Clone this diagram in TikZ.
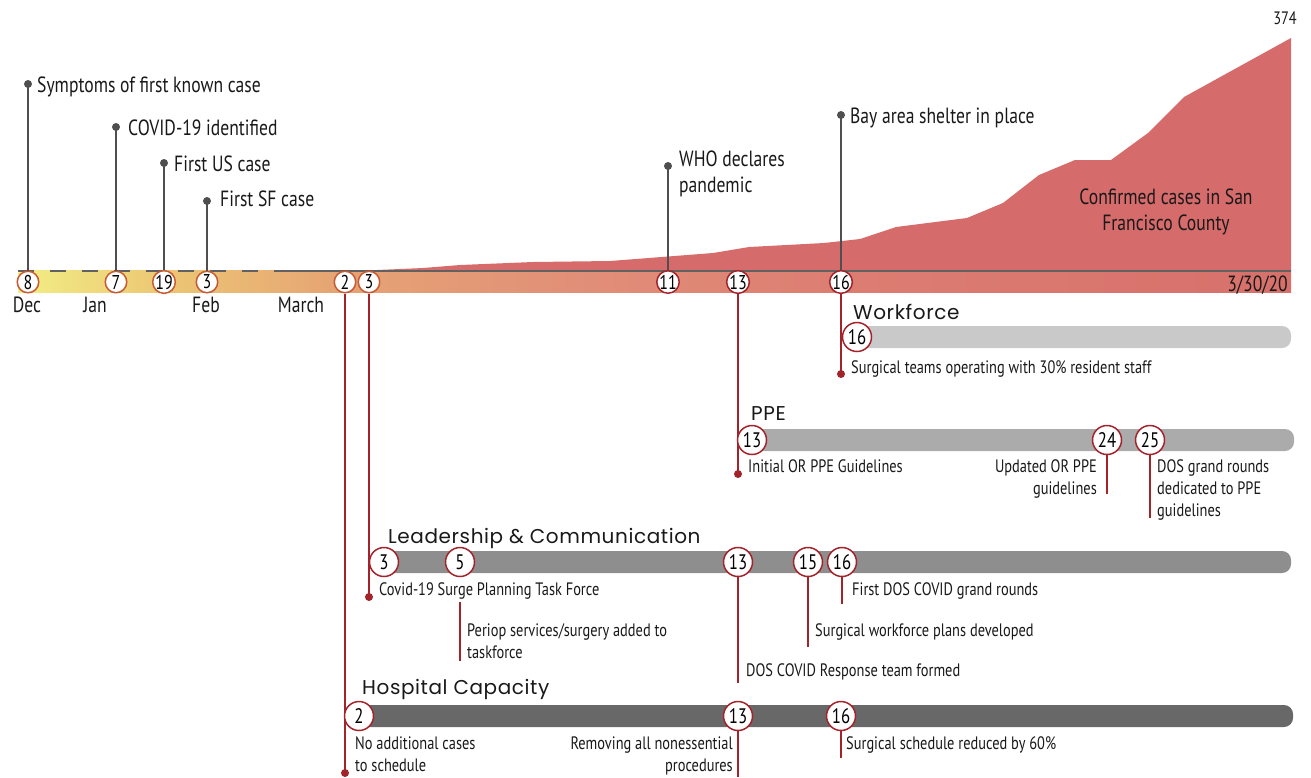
\documentclass[tikz,border=0pt]{standalone}
\usepackage{fontspec}
\setmainfont{PT Sans}
\newfontfamily\cond{PT Sans}[FakeStretch=0.8]
\newfontfamily\headfont{Poppins}[LetterSpace=3]
\definecolor{casered}{HTML}{D66B6B}
\definecolor{stemred}{HTML}{A3232B}
\definecolor{stemgray}{HTML}{4F4F4F}
\definecolor{bandring}{HTML}{C65A32}
\definecolor{trackA}{HTML}{C9C9C9}
\definecolor{trackB}{HTML}{ABABAB}
\definecolor{trackC}{HTML}{8E8E8E}
\definecolor{trackD}{HTML}{686868}
\definecolor{bA}{HTML}{F2EE84}
\definecolor{bB}{HTML}{ECC574}
\definecolor{bC}{HTML}{E6A474}
\definecolor{bD}{HTML}{E18E78}
\definecolor{bE}{HTML}{DC7D72}
\definecolor{bF}{HTML}{D7706B}
\pgfdeclarehorizontalshading{bandshade}{100bp}{color(0bp)=(bA); color(25bp)=(bA); color(31bp)=(bB); color(37.5bp)=(bC); color(47.5bp)=(bD); color(57.5bp)=(bE); color(75bp)=(bF); color(100bp)=(bF)}
\tikzset{
  big/.style={font=\cond\fontsize{22}{26}\selectfont, inner sep=0pt, text=black!90},
  small/.style={font=\cond\fontsize{18}{22}\selectfont, inner sep=0pt, text=black!90},
  heading/.style={font=\headfont\fontsize{20}{24}\selectfont, inner sep=0pt, text=black!90},
  bandcirc/.style={circle, draw=bandring, fill=white, line width=1.5pt, minimum size=21.5pt, inner sep=0pt, font=\cond\fontsize{20}{20}\selectfont},
  trackcirc/.style={circle, draw=stemred, fill=white, line width=1.5pt, minimum size=29pt, inner sep=0pt, font=\cond\fontsize{21}{21}\selectfont},
  gstem/.style={draw=stemgray, line width=2.5pt},
  rstem/.style={draw=stemred, line width=2.5pt},
  thinstem/.style={draw=stemred, line width=1.2pt},
  gdot/.style={circle, fill=stemgray, inner sep=0pt, minimum size=8pt},
  rdot/.style={circle, fill=stemred, inner sep=0pt, minimum size=8pt}
}
\begin{document}
\begin{tikzpicture}[x=1pt,y=-1pt]
\useasboundingbox (0,0) rectangle (1311,777);
% cases area
\fill[casered] (300,271) -- (377,270) -- (423,268) -- (460,265) -- (533,262) -- (610,261) -- (713,253) -- (749,247) -- (824,243) -- (860,239) -- (896,227) -- (967,218) -- (1003,203) -- (1039,175) -- (1075,160) -- (1111,160) -- (1148,133) -- (1184,97) -- (1291,38) -- (1291,271) -- cycle;
\node[small, anchor=base east] (max) at (1297,24) {374};
\node[big, align=center, anchor=base] (cases) at (1166,230) {Confirmed cases in San\\Francisco County};
% band
\shade[shading=bandshade] (18,270) rectangle (1291,292);
\draw[stemgray!90, line width=1.5pt, dash pattern=on 16pt off 16pt] (18,271) -- (275,271);
\draw[stemgray!90, line width=1.5pt] (275,271) -- (1291,271);
% months
\node[big, anchor=base] (mdec) at (27,312) {Dec};
\node[big, anchor=base] (mjan) at (95,312) {Jan};
\node[big, anchor=base] (mfeb) at (206,312) {Feb};
\node[big, anchor=base] (mmar) at (301,312) {March};
\node[big, anchor=base east] (mend) at (1288,291) {3/30/20};
% top events
\coordinate (e1) at (28,84);
\coordinate (e2) at (116,127);
\coordinate (e3) at (164,163);
\coordinate (e4) at (207,201);
\coordinate (e5) at (668,166);
\coordinate (e6) at (841,115);
\node[bandcirc] (d8) at (28,282) {8};
\node[bandcirc] (d7) at (116,282) {7};
\node[bandcirc] (d19) at (164,282) {19};
\node[bandcirc] (d3) at (207,282) {3};
\node[bandcirc, draw=stemred] (d11) at (668,282) {11};
\draw[gstem] (d8.north) -- (e1);
\draw[gstem] (d7.north) -- (e2);
\draw[gstem] (d19.north) -- (e3);
\draw[gstem] (d3.north) -- (e4);
\draw[gstem] (d11.north) -- (e5);
\node[gdot] at (e1) {};
\node[gdot] at (e2) {};
\node[gdot] at (e3) {};
\node[gdot] at (e4) {};
\node[gdot] at (e5) {};
\node[gdot] at (e6) {};
\node[big, anchor=base west] (t1) at (37,92) {Symptoms of first known case};
\node[big, anchor=base west] (t2) at (128,135) {COVID-19 identified};
\node[big, anchor=base west] (t3) at (174,171) {First US case};
\node[big, anchor=base west] (t4) at (220,206) {First SF case};
\node[big, anchor=base west, align=left] (t5) at (679,192) {WHO declares\\pandemic};
\node[big, anchor=base west] (t6) at (850,123) {Bay area shelter in place};
% March circles on band
\node[bandcirc] (m2) at (345,282) {2};
\node[bandcirc] (m3) at (369,282) {3};
\node[bandcirc, draw=stemred] (m13) at (738,282) {13};
\node[bandcirc, draw=stemred] (m16) at (841,282) {16};
\draw[gstem] (m16.north) -- (e6);
% big red stems
\coordinate (r2) at (345,773);
\coordinate (r3) at (369,597);
\coordinate (r13) at (738,474);
\coordinate (r16) at (841,374);
\draw[rstem] (m2.south) -- (r2);
\draw[rstem] (m3.south) -- (r3);
\draw[rstem] (m13.south) -- (r13);
\draw[rstem] (m16.south) -- (r16);
\node[rdot] at (r2) {};
\node[rdot] at (r3) {};
\node[rdot] at (r13) {};
\node[rdot] at (r16) {};
% Workforce
\node[heading, anchor=base west] (hw) at (853,319) {Workforce};
\fill[trackA, rounded corners=9pt] (843,326) rectangle (1291,348);
\node[trackcirc] (w16) at (857,337) {16};
\node[small, anchor=base west] (w16t) at (851,373) {Surgical teams operating with 30\% resident staff};
% PPE
\node[heading, anchor=base west] (hp) at (751,420) {PPE};
\fill[trackB, rounded corners=9pt] (738,429) rectangle (1294,451);
\node[trackcirc] (p13) at (752,440) {13};
\node[trackcirc] (p24) at (1107,440) {24};
\node[trackcirc] (p25) at (1150,440) {25};
\coordinate (p24e) at (1107,494);
\coordinate (p25e) at (1150,518);
\draw[thinstem] (p24.south) -- (p24e);
\draw[thinstem] (p25.south) -- (p25e);
\node[small, anchor=base west] (p13t) at (748,472) {Initial OR PPE Guidelines};
\node[small, anchor=base east, align=right] (p24t) at (1097,494) {Updated OR PPE\\guidelines};
\node[small, anchor=base west, align=left] (p25t) at (1157,516) {DOS grand rounds\\dedicated to PPE\\guidelines};
% Leadership
\node[heading, anchor=base west] (hl) at (388,543) {Leadership \& Communication};
\fill[trackC, rounded corners=9pt] (370,551) rectangle (1291,573);
\node[trackcirc] (l3) at (384,562) {3};
\node[trackcirc] (l5) at (460,562) {5};
\node[trackcirc] (l13) at (738,562) {13};
\node[trackcirc] (l15) at (808,562) {15};
\node[trackcirc] (l16) at (842,562) {16};
\coordinate (l5a) at (460,602);
\coordinate (l5b) at (460,661);
\coordinate (l13e) at (738,683);
\coordinate (l15e) at (808,647);
\coordinate (l16e) at (842,604);
\draw[thinstem] (l5a) -- (l5b);
\draw[thinstem] (l13.south) -- (l13e);
\draw[thinstem] (l15.south) -- (l15e);
\draw[thinstem] (l16.south) -- (l16e);
\node[small, anchor=base west] (l3t) at (379,595) {Covid-19 Surge Planning Task Force};
\node[small, anchor=base west, align=left] (l5t) at (467,658) {Periop services/surgery added to\\taskforce};
\node[small, anchor=base west] (l13t) at (746,676) {DOS COVID Response team formed};
\node[small, anchor=base west] (l15t) at (815,636) {Surgical workforce plans developed};
\node[small, anchor=base west] (l16t) at (852,595) {First DOS COVID grand rounds};
% Hospital capacity
\node[heading, anchor=base west] (hh) at (362,694) {Hospital Capacity};
\fill[trackD, rounded corners=9pt] (345,705) rectangle (1293,727);
\node[trackcirc] (h2) at (359,716) {2};
\node[trackcirc] (h13) at (738,716) {13};
\node[trackcirc] (h16) at (841,716) {16};
\coordinate (h13e) at (738,777);
\coordinate (h16e) at (841,758);
\draw[thinstem] (h13.south) -- (h13e);
\draw[thinstem] (h16.south) -- (h16e);
\node[small, anchor=base west, align=left] (h2t) at (355,771) {No additional cases\\to schedule};
\node[small, anchor=base east, align=right] (h13t) at (733,771) {Removing all nonessential\\procedures};
\node[small, anchor=base west] (h16t) at (846,749) {Surgical schedule reduced by 60\%};
\end{tikzpicture}
\end{document}
